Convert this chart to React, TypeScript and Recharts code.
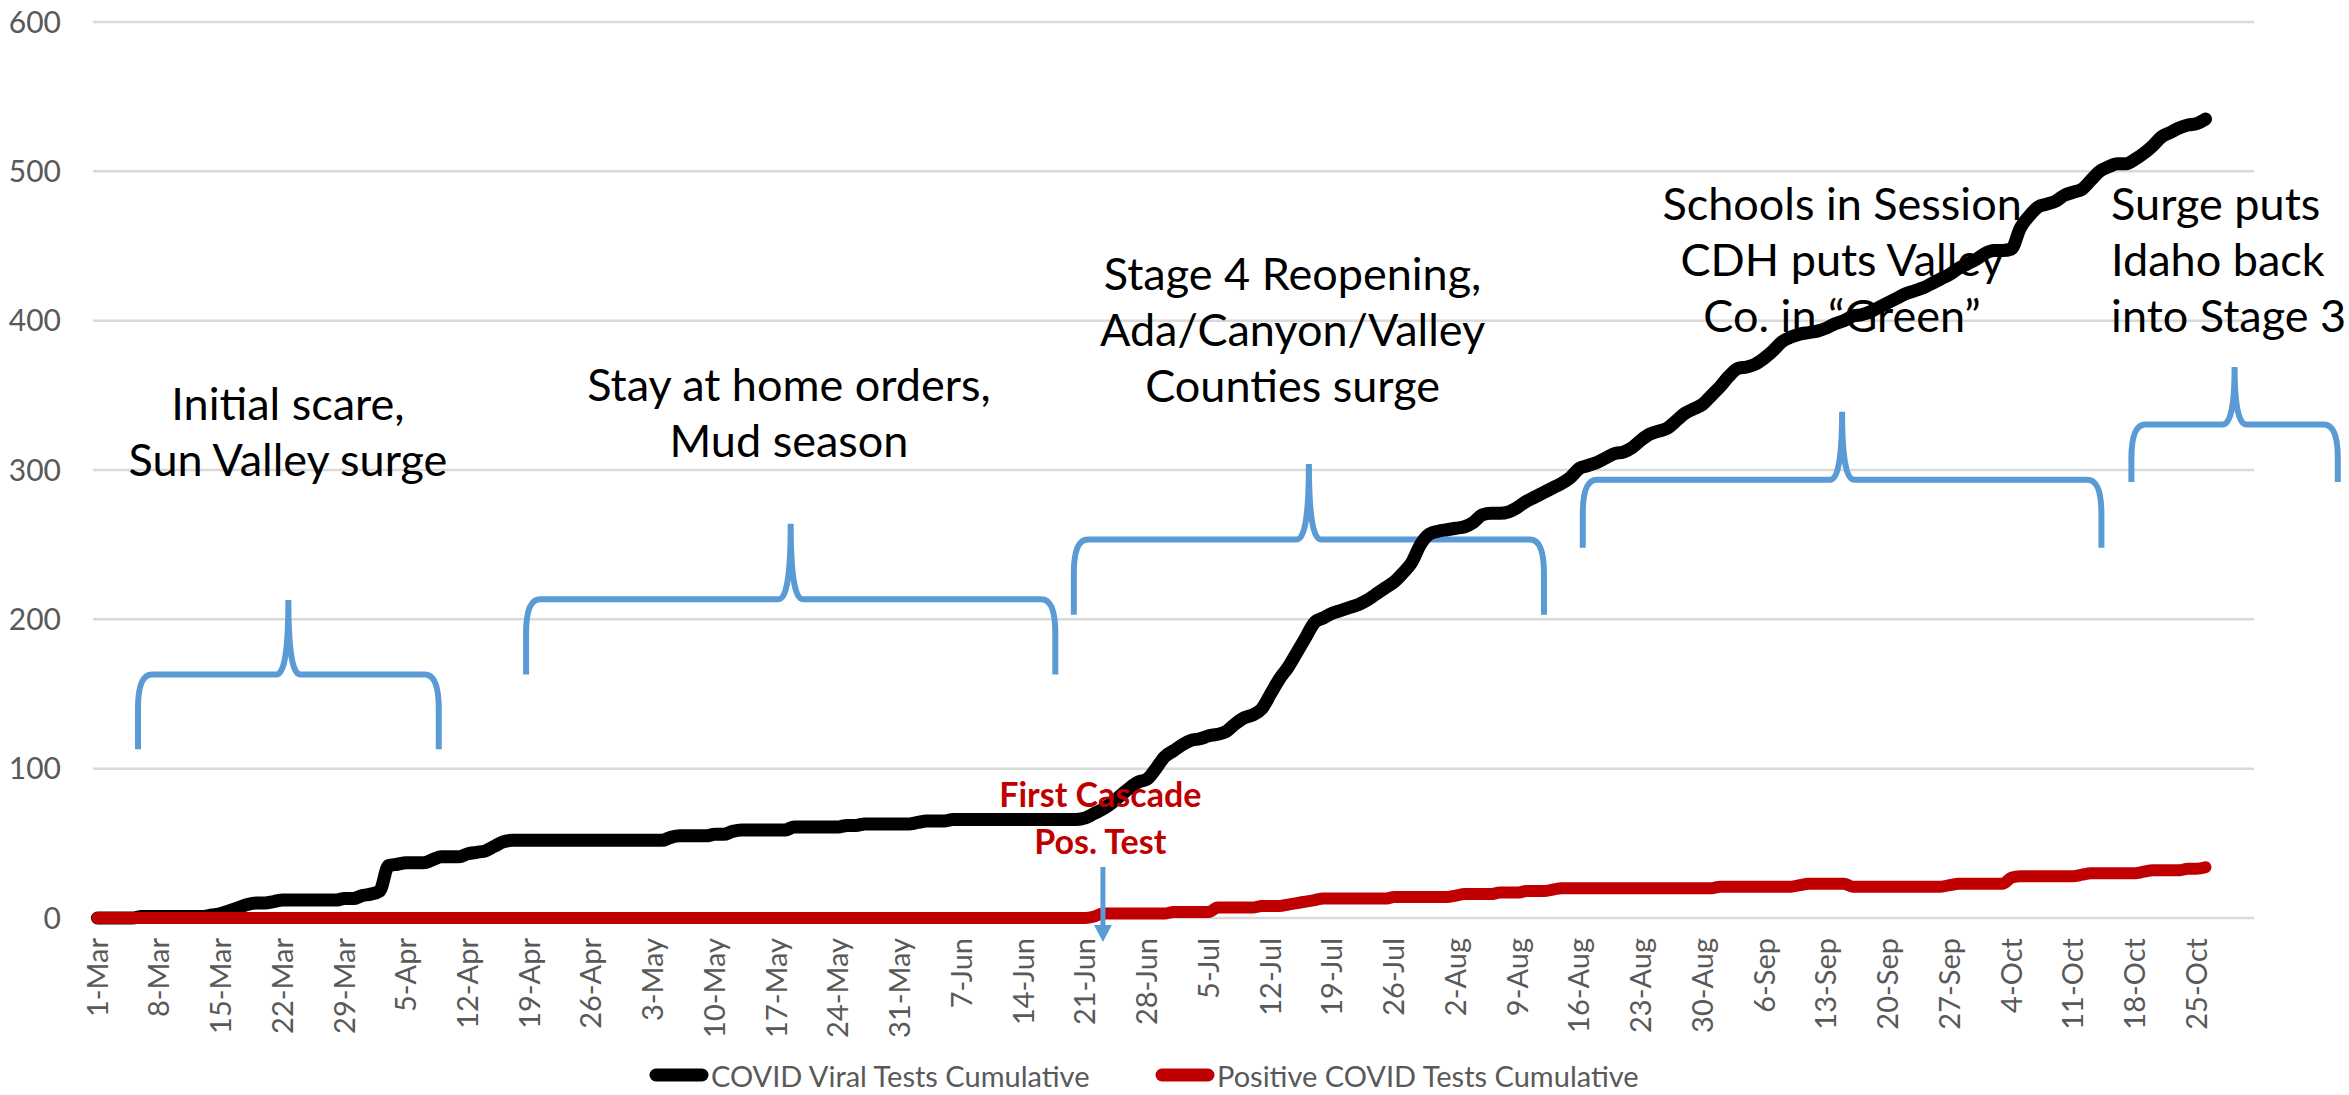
import React from 'react';
import {
  LineChart,
  Line,
  XAxis,
  YAxis,
  CartesianGrid,
  Legend,
  ReferenceArea,
  ReferenceDot,
} from 'recharts';

const WIDTH = 2349;
const HEIGHT = 1095;
const FONT = 'Lato, "Open Sans", sans-serif';
const BLUE = '#5B9BD5';
const RED = '#C00000';
const GREY = '#595959';

// one label every 7 days, first day = 1-Mar
const tickLabels = [
  '1-Mar', '8-Mar', '15-Mar', '22-Mar', '29-Mar', '5-Apr', '12-Apr', '19-Apr', '26-Apr',
  '3-May', '10-May', '17-May', '24-May', '31-May', '7-Jun', '14-Jun', '21-Jun', '28-Jun',
  '5-Jul', '12-Jul', '19-Jul', '26-Jul', '2-Aug', '9-Aug', '16-Aug', '23-Aug', '30-Aug',
  '6-Sep', '13-Sep', '20-Sep', '27-Sep', '4-Oct', '11-Oct', '18-Oct', '25-Oct',
];
const yTicks = [0, 100, 200, 300, 400, 500, 600];

// daily cumulative values, 1-Mar .. 26-Oct
const viralTests = [
  0, 0, 0, 0, 0, 1, 1,
  1, 1, 1, 1, 1, 1, 2,
  3, 5, 7, 9, 10, 10, 11,
  12, 12, 12, 12, 12, 12, 12,
  13, 13, 15, 16, 18, 35, 36,
  37, 37, 37, 39, 41, 41, 41,
  43, 44, 45, 48, 51, 52, 52,
  52, 52, 52, 52, 52, 52, 52,
  52, 52, 52, 52, 52, 52, 52,
  52, 52, 54, 55, 55, 55, 55,
  56, 56, 58, 59, 59, 59, 59,
  59, 59, 61, 61, 61, 61, 61,
  61, 62, 62, 63, 63, 63, 63,
  63, 63, 64, 65, 65, 65, 66,
  66, 66, 66, 66, 66, 66, 66,
  66, 66, 66, 66, 66, 66, 66,
  67, 70, 73, 77, 82, 87, 91,
  93, 100, 108, 112, 116, 119, 120,
  122, 123, 125, 130, 134, 136, 140,
  150, 160, 168, 178, 188, 198, 201,
  204, 206, 208, 210, 213, 217, 221,
  225, 231, 238, 250, 257, 259, 260,
  261, 262, 265, 270, 271, 271, 272,
  275, 279, 282, 285, 288, 291, 295,
  301, 303, 305, 308, 311, 312, 315,
  320, 324, 326, 328, 333, 338, 341,
  344, 350, 356, 363, 368, 369, 371,
  375, 380, 386, 389, 391, 392, 393,
  395, 398, 400, 403, 404, 406, 409,
  412, 415, 418, 420, 422, 425, 428,
  431, 435, 438, 441, 445, 447, 447,
  448, 462, 470, 476, 478, 480, 484,
  486, 488, 494, 500, 503, 505, 505,
  508, 512, 517, 523, 526, 529, 531,
  532, 535,
];

const positiveTests = [
  0, 0, 0, 0, 0, 0, 0,
  0, 0, 0, 0, 0, 0, 0,
  0, 0, 0, 0, 0, 0, 0,
  0, 0, 0, 0, 0, 0, 0,
  0, 0, 0, 0, 0, 0, 0,
  0, 0, 0, 0, 0, 0, 0,
  0, 0, 0, 0, 0, 0, 0,
  0, 0, 0, 0, 0, 0, 0,
  0, 0, 0, 0, 0, 0, 0,
  0, 0, 0, 0, 0, 0, 0,
  0, 0, 0, 0, 0, 0, 0,
  0, 0, 0, 0, 0, 0, 0,
  0, 0, 0, 0, 0, 0, 0,
  0, 0, 0, 0, 0, 0, 0,
  0, 0, 0, 0, 0, 0, 0,
  0, 0, 0, 0, 0, 0, 0,
  0, 1, 3, 3, 3, 3, 3,
  3, 3, 3, 4, 4, 4, 4,
  4, 7, 7, 7, 7, 7, 8,
  8, 8, 9, 10, 11, 12, 13,
  13, 13, 13, 13, 13, 13, 13,
  14, 14, 14, 14, 14, 14, 14,
  15, 16, 16, 16, 16, 17, 17,
  17, 18, 18, 18, 19, 20, 20,
  20, 20, 20, 20, 20, 20, 20,
  20, 20, 20, 20, 20, 20, 20,
  20, 20, 21, 21, 21, 21, 21,
  21, 21, 21, 21, 22, 23, 23,
  23, 23, 23, 21, 21, 21, 21,
  21, 21, 21, 21, 21, 21, 21,
  22, 23, 23, 23, 23, 23, 23,
  27, 28, 28, 28, 28, 28, 28,
  28, 29, 30, 30, 30, 30, 30,
  30, 31, 32, 32, 32, 32, 33,
  33, 34,
];

// curly braces over each period (day range, value of leg foot and tip)
const braces = [
  { from: 4.6, to: 38.7, low: 113, high: 213 },
  { from: 48.6, to: 108.6, low: 163, high: 264 },
  { from: 110.7, to: 164, low: 203, high: 304 },
  { from: 168.4, to: 227.2, low: 248, high: 339 },
  { from: 230.6, to: 254, low: 292, high: 369 },
];

const notes = [
  { day: 21.6, value: 344, anchor: 'middle', lines: ['Initial scare,', 'Sun Valley surge'] },
  { day: 78.4, value: 357, anchor: 'middle', lines: ['Stay at home orders,', 'Mud season'] },
  { day: 135.5, value: 431, anchor: 'middle', lines: ['Stage 4 Reopening,', 'Ada/Canyon/Valley', 'Counties surge'] },
  { day: 197.8, value: 478, anchor: 'middle', lines: ['Schools in Session', 'CDH puts Valley', 'Co. in \u201cGreen\u201d'] },
  { day: 228.3, value: 478, anchor: 'start', lines: ['Surge puts', 'Idaho back', 'into Stage 3'] },
];

const firstCase = { day: 113.7, value: 82, lines: ['First Cascade', 'Pos. Test'] };
const arrowDay = 114;

const data = viralTests.map((v, i) => ({ day: i, tests: v, positive: positiveTests[i] }));
const xTicks = tickLabels.map((_, k) => k * 7);

function BraceShape(props: any) {
  const { x, y, width, height } = props;
  const x1 = x;
  const x2 = x + width;
  const top = y;
  const bottom = y + height;
  const bar = (top + bottom) / 2;
  const mid = (x1 + x2) / 2;
  const rx = 14;
  const ry = 34;
  const cusp = 12;
  const d =
    `M${x1},${bottom} L${x1},${bar + ry} Q${x1},${bar} ${x1 + rx},${bar} ` +
    `L${mid - cusp},${bar} Q${mid},${bar} ${mid},${top} Q${mid},${bar} ${mid + cusp},${bar} ` +
    `L${x2 - rx},${bar} Q${x2},${bar} ${x2},${bar + ry} L${x2},${bottom}`;
  return <path d={d} fill="none" stroke={BLUE} strokeWidth={6} />;
}

function noteShape(lines: string[], anchor: string, size: number, lineHeight: number, color: string, weight: number) {
  return (props: any) => (
    <text
      x={props.cx}
      y={props.cy}
      textAnchor={anchor}
      fontFamily={FONT}
      fontSize={size}
      fontWeight={weight}
      fill={color}
    >
      {lines.map((l, k) => (
        <tspan key={k} x={props.cx} dy={k === 0 ? '0.35em' : lineHeight}>
          {l}
        </tspan>
      ))}
    </text>
  );
}

function ArrowShape(props: any) {
  const { cx, cy } = props;
  return (
    <g>
      <line x1={cx} y1={cy - 51} x2={cx} y2={cy + 9} stroke={BLUE} strokeWidth={5} />
      <path d={`M${cx - 9},${cy + 7} L${cx + 9},${cy + 7} L${cx},${cy + 24} Z`} fill={BLUE} />
    </g>
  );
}

function DateTick(props: any) {
  const { x, y, payload } = props;
  return (
    <text
      x={x}
      y={y}
      transform={`rotate(-90 ${x} ${y})`}
      textAnchor="end"
      dy="0.35em"
      fill={GREY}
      fontSize={29}
      fontFamily={FONT}
    >
      {tickLabels[Math.round(payload.value / 7)]}
    </text>
  );
}

function renderLegend(props: any) {
  const { payload } = props;
  return (
    <div style={{ display: 'flex', alignItems: 'center', height: 40, paddingLeft: 649 }}>
      {payload.map((item: any, k: number) => (
        <div key={k} style={{ display: 'flex', alignItems: 'center', width: k === 0 ? 506 : 'auto' }}>
          <svg width={60} height={16}>
            <line x1={7} y1={8} x2={53} y2={8} stroke={item.color} strokeWidth={13} strokeLinecap="round" />
          </svg>
          <span style={{ fontFamily: FONT, fontSize: 29, color: GREY, marginLeft: 2 }}>{item.value}</span>
        </div>
      ))}
    </div>
  );
}

export default function App() {
  return (
    <div style={{ position: 'absolute', left: 0, top: 0, width: WIDTH, height: HEIGHT, background: '#fff' }}>
      <LineChart width={WIDTH} height={HEIGHT} data={data} margin={{ top: 22, right: 95, bottom: 0, left: 0 }}>
        <CartesianGrid vertical={false} stroke="#D9D9D9" strokeWidth={2.5} />
        <XAxis
          type="number"
          dataKey="day"
          domain={[-0.5, 244.5]}
          ticks={xTicks}
          interval={0}
          tick={<DateTick />}
          tickLine={false}
          axisLine={false}
          tickSize={0}
          tickMargin={20}
          height={137}
        />
        <YAxis
          domain={[0, 600]}
          ticks={yTicks}
          axisLine={false}
          tickLine={false}
          tickSize={0}
          tickMargin={32}
          width={93}
          tick={{ fill: GREY, fontSize: 30, fontFamily: FONT }}
        />
        {braces.map((b, k) => (
          <ReferenceArea
            key={`brace-${k}`}
            x1={b.from}
            x2={b.to}
            y1={b.low}
            y2={b.high}
            ifOverflow="visible"
            shape={BraceShape}
          />
        ))}
        {notes.map((n, k) => (
          <ReferenceDot
            key={`note-${k}`}
            x={n.day}
            y={n.value}
            r={0}
            ifOverflow="visible"
            shape={noteShape(n.lines, n.anchor, 45, 56, '#000', 400)}
          />
        ))}
        <Line
          type="monotone"
          dataKey="tests"
          name="COVID Viral Tests Cumulative"
          stroke="#000000"
          strokeWidth={13}
          strokeLinecap="round"
          strokeLinejoin="round"
          dot={false}
          isAnimationActive={false}
        />
        <Line
          type="monotone"
          dataKey="positive"
          name="Positive COVID Tests Cumulative"
          stroke={RED}
          strokeWidth={12}
          strokeLinecap="round"
          strokeLinejoin="round"
          dot={false}
          isAnimationActive={false}
        />
        <ReferenceDot
          x={firstCase.day}
          y={firstCase.value}
          r={0}
          ifOverflow="visible"
          shape={noteShape(firstCase.lines, 'middle', 34, 47, RED, 700)}
        />
        <ReferenceDot x={arrowDay} y={0} r={0} ifOverflow="visible" shape={ArrowShape} />
        <Legend
          verticalAlign="bottom"
          content={renderLegend}
          wrapperStyle={{ left: 0, width: WIDTH, bottom: 0 }}
        />
      </LineChart>
    </div>
  );
}
